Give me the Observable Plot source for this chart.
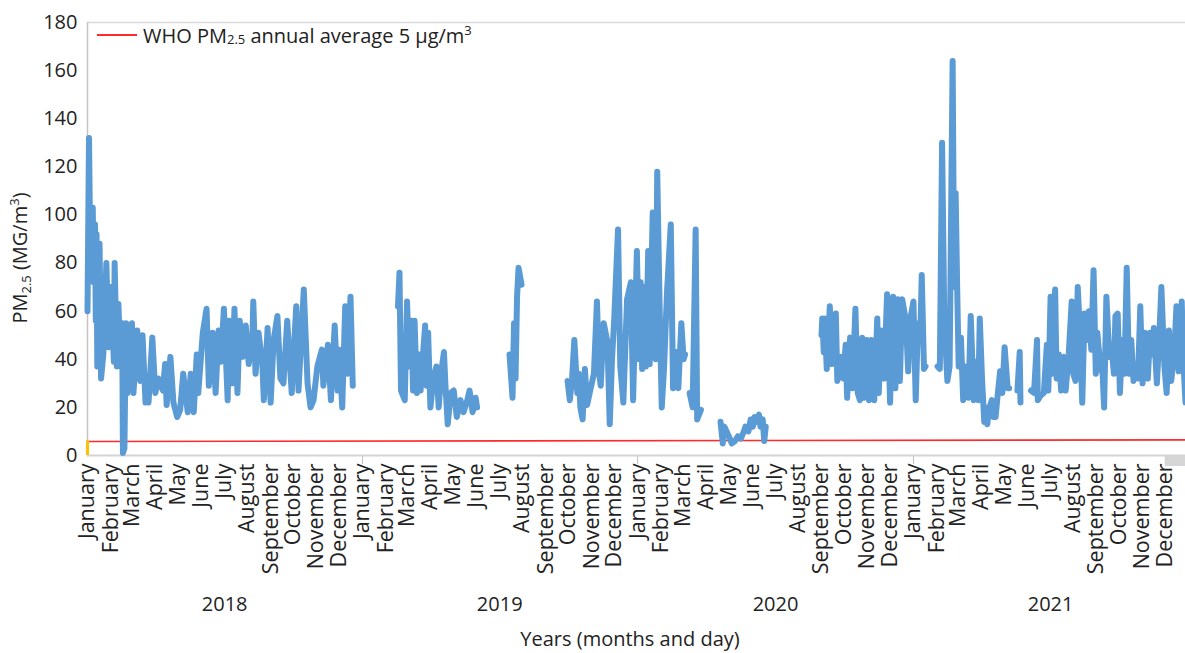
<!DOCTYPE html>
<html><head><meta charset="utf-8">
<script src="https://cdn.jsdelivr.net/npm/d3@7"></script>
<script src="https://cdn.jsdelivr.net/npm/@observablehq/plot@0.6"></script>
<style>
html,body{margin:0;padding:0;background:#fff;}
#wrap{position:relative;width:1185px;height:653px;font-family:'Open Sans',sans-serif;overflow:hidden;background:#fff}
#legend{position:absolute;left:97px;top:24px;font-size:20px;color:#222;display:flex;align-items:center;white-space:nowrap;line-height:1}
#legend .sw{display:inline-block;width:40px;height:2px;background:#ff2b2b;margin-right:6px}
#legend sub{font-size:0.65em;vertical-align:-0.12em}
#legend sup{font-size:0.65em;vertical-align:0.6em}
</style></head>
<body><div id="wrap"><div id="legend"><span class="sw"></span><span>WHO PM<sub>2.5</sub> annual average 5 µg/m<sup>3</sup></span></div></div>
<script>
// [days since 2018-01-01, PM2.5 value]
const seg2018 = [[0,60],[2,132],[4,75],[7,103],[8,72],[10,96],[11,56],[12,92],[13,37],[16,88],[18,32],[21,42],[25,80],[28,45],[31,70],[35,39],[36,80],[39,37],[41,63],[44,37],[46,55],[47,1],[49,3],[51,55],[53,26],[55,54],[57,28],[59,55],[61,26],[66,52],[70,31],[73,50],[77,22],[79,30],[81,22],[86,49],[90,26],[94,32],[100,27],[103,38],[105,21],[110,41],[114,22],[119,16],[123,19],[127,34],[133,18],[137,34],[141,18],[145,42],[147,26],[153,51],[158,61],[161,29],[166,51],[170,26],[174,52],[177,39],[181,61],[186,23],[188,56],[192,30],[195,61],[199,26],[202,56],[206,41],[210,54],[214,38],[219,51],[220,64],[223,34],[227,51],[232,38],[234,23],[239,53],[243,22],[247,48],[252,58],[256,32],[260,30],[265,56],[271,26],[273,39],[277,62],[280,27],[287,69],[292,30],[296,20],[300,23],[305,37],[311,44],[313,29],[319,46],[323,23],[328,54],[332,27],[334,44],[338,20],[342,62],[345,34],[349,66],[352,29]];
const seg2019a = [[412,62],[414,76],[416,27],[421,23],[424,64],[427,37],[430,56],[432,27],[434,56],[437,26],[440,42],[442,27],[444,37],[448,54],[450,29],[452,51],[455,20],[459,32],[463,37],[466,20],[470,36],[473,43],[475,29],[478,13],[482,26],[486,27],[490,16],[495,23],[499,18],[504,23],[507,27],[511,18],[515,24],[517,20]];
const seg2019b = [[560,42],[564,24],[566,55],[568,32],[570,66],[572,78],[576,71]];
const seg2019c = [[637,31],[640,23],[643,32],[646,48],[650,26],[652,34],[654,20],[657,15],[660,36],[663,21],[667,27],[672,34],[676,64],[679,34],[681,29],[685,55],[690,47],[693,13],[696,40],[699,57],[701,72],[704,94],[707,37],[711,22],[716,65],[721,72],[724,23],[729,85],[732,40],[734,72],[736,36],[738,70],[741,37],[744,85],[746,38],[750,101],[752,60],[754,40],[756,118],[759,65],[762,20],[765,36],[769,68],[774,96],[777,28],[781,43],[784,28],[788,55],[791,40],[793,42]];
const seg2020a = [[799,26],[803,20],[807,94],[809,15],[814,19]];
const seg2020b = [[840,14],[843,5],[845,12],[851,8],[855,5],[859,6],[863,8],[867,7],[871,10],[873,12],[877,10],[880,15],[883,12],[885,16],[888,14],[891,17],[893,12],[896,15],[898,6],[900,12]];
const seg2020c = [[974,50],[975,57],[977,43],[978,57],[981,36],[985,62],[988,38],[993,59],[995,31],[1000,41],[1003,32],[1006,46],[1008,24],[1012,49],[1015,28],[1019,61],[1022,26],[1025,23],[1028,49],[1030,24],[1034,48],[1037,23],[1040,48],[1044,23],[1048,57],[1050,26],[1053,52],[1057,32],[1061,67],[1065,22],[1069,66],[1072,28],[1075,65],[1078,31],[1081,65],[1086,56],[1089,35],[1092,57],[1096,64],[1099,23],[1102,55],[1105,48],[1107,75],[1110,36],[1112,37]];
const seg2021a = [[1128,37],[1131,36],[1134,130],[1137,55],[1141,31],[1144,37],[1148,164],[1150,70],[1152,109],[1154,70],[1156,37],[1159,49],[1162,23],[1165,37],[1169,24],[1172,58],[1176,23],[1179,39],[1182,23],[1184,57],[1187,32],[1190,14],[1192,20],[1194,13],[1196,19],[1200,23],[1202,16],[1205,16],[1208,26],[1211,35],[1214,26],[1217,45],[1221,28],[1223,28]];
const seg2021b = [[1234,27],[1237,43],[1238,22]];
const seg2021c = [[1252,27],[1256,26],[1260,48],[1261,23],[1265,25],[1269,26],[1273,46],[1275,27],[1278,66],[1280,34],[1284,69],[1286,32],[1289,42],[1292,27],[1296,41],[1298,27],[1302,42],[1306,64],[1308,34],[1311,31],[1314,70],[1317,51],[1320,22],[1323,59],[1326,48],[1329,60],[1332,44],[1335,77],[1338,34],[1340,51],[1344,37],[1347,34],[1349,20],[1352,66],[1356,41],[1359,45],[1362,34],[1364,58],[1367,59],[1370,26],[1373,48],[1376,34],[1379,78],[1382,34],[1385,48],[1388,31],[1391,38],[1394,32],[1397,62],[1400,30],[1403,51],[1407,32],[1410,51],[1413,42],[1415,53],[1419,30],[1422,48],[1425,70],[1429,37],[1432,26],[1435,52],[1438,31],[1442,42],[1445,62],[1448,35],[1452,64],[1454,40],[1457,22]];

const whoValues = [5.8, 6.5];          // WHO reference line as drawn (start, end)
const orangeValue = 6;                 // small orange series at start
const yTicks = [0,20,40,60,80,100,120,140,160,180];
const years = [2018, 2019, 2020, 2021];

const day0 = Date.UTC(2018,0,1);
const toDate = d => new Date(day0 + d*864e5);
const xStart = new Date(Date.UTC(2018,0,1));
const xEnd = new Date(Date.UTC(2021,11,28));

const segs = {seg2018, seg2019a, seg2019b, seg2019c, seg2020a, seg2020b, seg2020c, seg2021a, seg2021b, seg2021c};
const rows = [];
for (const [name, arr] of Object.entries(segs)) for (const [d, v] of arr) rows.push({date: toDate(d), pm: v, seg: name});
const who = [{date: xStart, v: whoValues[0]}, {date: xEnd, v: whoValues[1]}];
const monthTicks = d3.utcMonths(new Date(Date.UTC(2018,0,1)), new Date(Date.UTC(2022,0,1)));
const yearBounds = years.slice(1).map(y => new Date(Date.UTC(y,0,1)));
const yearMids = years.map(y => new Date(Date.UTC(y,6,2)));
const scrollbar = [{x1: new Date(Date.UTC(2021,11,1)), x2: xEnd, y1: 0, y2: -4.6}];

const chart = Plot.plot({
  width: 1185, height: 653,
  marginLeft: 87, marginRight: 0, marginTop: 22, marginBottom: 198,
  style: {fontFamily: "'Open Sans', sans-serif", fontSize: "20px", color: "#222", background: "#fff", overflow: "visible"},
  x: {type: "utc", domain: [xStart, xEnd]},
  y: {domain: [0, 180]},
  marks: [
    Plot.ruleY([180], {stroke: "#d9d9d9", strokeWidth: 1.5}),
    Plot.axisY({ticks: yTicks, tickSize: 0, tickPadding: 10, label: null}),
    Plot.axisX({ticks: monthTicks, tickFormat: d3.utcFormat("%B"), tickRotate: -90, tickSize: 0, tickPadding: 8, fontSize: 21.5, label: null}),
    Plot.axisX({ticks: yearBounds, tickFormat: () => "", tickSize: 9, stroke: "#bfbfbf", label: null}),
    Plot.axisX({ticks: yearMids, tickFormat: d3.utcFormat("%Y"), tickSize: 0, tickPadding: 141, label: null}),
    Plot.rect(scrollbar, {x1: "x1", x2: "x2", y1: "y1", y2: "y2", fill: "#d6d6d6", clip: false}),
    Plot.ruleY([0], {stroke: "#d4d4d4", strokeWidth: 2}),
    Plot.ruleX([xStart], {stroke: "#c4c4c4", strokeWidth: 1.5}),
    Plot.line(who, {x: "date", y: "v", stroke: "#ff2a2a", strokeWidth: 1.6}),
    Plot.line(rows, {x: "date", y: "pm", z: "seg", stroke: "#5b9bd5", strokeWidth: 6, strokeLinejoin: "round", strokeLinecap: "round"}),
    Plot.ruleX([{date: xStart, v: orangeValue}], {x: "date", y1: 0, y2: "v", stroke: "#ffc000", strokeWidth: 3})
  ]
});

const svg = d3.select(chart);
const yt = svg.append("text")
  .attr("transform", "translate(27,258) rotate(-90)")
  .attr("text-anchor", "middle").attr("fill", "#222")
  .style("font-family", "'Open Sans', sans-serif").style("font-size", "20px");
yt.append("tspan").text("PM");
yt.append("tspan").attr("dy", 4).style("font-size", "13px").text("2.5");
yt.append("tspan").attr("dy", -4).text(" (MG/m");
yt.append("tspan").attr("dy", -8).style("font-size", "13px").text("3");
yt.append("tspan").attr("dy", 8).text(")");
svg.append("text")
  .attr("x", 630).attr("y", 646).attr("text-anchor", "middle").attr("fill", "#222")
  .style("font-family", "'Open Sans', sans-serif").style("font-size", "20px")
  .text("Years (months and day)");

document.getElementById("wrap").appendChild(chart);
chart.style.position = "absolute"; chart.style.left = "0"; chart.style.top = "0";
document.getElementById("legend").style.zIndex = 2;
</script>
</body></html>
